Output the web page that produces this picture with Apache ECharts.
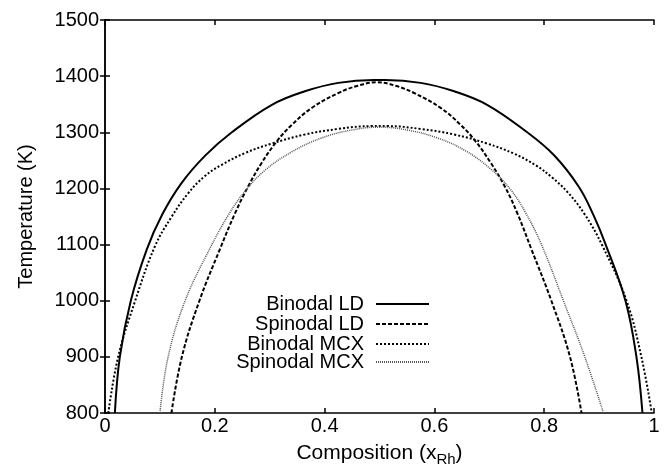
<!DOCTYPE html>
<html>
<head>
<meta charset="utf-8">
<script src="https://cdn.jsdelivr.net/npm/echarts@6/dist/echarts.min.js"></script>
<style>html,body{margin:0;padding:0;background:#fff}#c{width:672px;height:472px}</style>
</head>
<body>
<div id="c"></div>
<script>
const seriesNames = ['Binodal LD', 'Spinodal LD', 'Binodal MCX', 'Spinodal MCX'];
const binodalLD = [[0.018,800],[0.027,900],[0.047,1000],[0.076,1091],[0.104,1153],[0.139,1209],[0.182,1258],[0.231,1300],[0.304,1349],[0.364,1373],[0.425,1388],[0.49,1393],[0.51,1393],[0.575,1388],[0.636,1373],[0.696,1349],[0.769,1300],[0.818,1259],[0.863,1203],[0.89,1152],[0.912,1100],[0.948,1000],[0.968,900],[0.979,800]];
const spinodalLD = [[0.121,800],[0.140,900],[0.172,1000],[0.209,1091],[0.237,1156],[0.261,1204],[0.285,1245],[0.313,1284],[0.340,1313],[0.376,1343],[0.425,1370],[0.461,1383],[0.495,1389],[0.529,1383],[0.563,1370],[0.612,1343],[0.648,1313],[0.675,1284],[0.703,1245],[0.728,1204],[0.751,1156],[0.777,1091],[0.813,1000],[0.847,900],[0.868,800]];
const binodalMCX = [[0.006,800],[0.024,900],[0.055,1000],[0.091,1097],[0.121,1149],[0.152,1192],[0.182,1222],[0.2125,1242],[0.255,1263],[0.304,1280],[0.364,1296],[0.425,1306],[0.486,1311],[0.514,1311],[0.575,1306],[0.636,1296],[0.696,1280],[0.745,1262],[0.785,1241],[0.815,1219],[0.842,1194],[0.873,1155],[0.906,1098],[0.950,1000],[0.977,900],[0.996,800]];
const spinodalMCX = [[0.100,800],[0.115,900],[0.146,1000],[0.190,1091],[0.225,1153],[0.255,1195],[0.291,1232],[0.340,1265],[0.395,1290],[0.449,1304],[0.50,1309],[0.551,1304],[0.605,1290],[0.655,1268],[0.702,1235],[0.738,1199],[0.766,1157],[0.795,1100],[0.835,1000],[0.874,900],[0.908,800]];
const xTicks = [0, 0.2, 0.4, 0.6, 0.8, 1];
const yTicks = [800, 900, 1000, 1100, 1200, 1300, 1400, 1500];

const FONT = 'Liberation Sans';
const chart = echarts.init(document.getElementById('c'), null, {renderer: 'canvas'});
const axisCommon = {
  axisLine: {show: true, lineStyle: {color: '#000', width: 1.5}},
  axisTick: {show: true, inside: true, length: 5, lineStyle: {color: '#000', width: 1.5}},
  splitLine: {show: false}
};
const styles = [
  {color: '#000', width: 2, type: 'solid'},
  {color: '#000', width: 2, type: [4, 2]},
  {color: '#000', width: 2, type: [2, 2]},
  {color: '#555', width: 1.5, type: [1, 1]}
];
const dataArr = [binodalLD, spinodalLD, binodalMCX, spinodalMCX];
const legendTops = [294, 314, 334, 352];
chart.setOption({
  animation: false,
  textStyle: {fontFamily: FONT},
  grid: {left: 105, right: 18, top: 20, bottom: 58},
  legend: seriesNames.map((n, i) => ({
    data: [n], right: 242, top: legendTops[i], orient: 'vertical', align: 'right',
    itemWidth: 53, itemHeight: 14, padding: 0,
    itemStyle: {opacity: 0},
    textStyle: {fontFamily: FONT, fontSize: 20, color: '#000', padding: [0, 7, 0, 0]}
  })),
  xAxis: [
    Object.assign({}, axisCommon, {
      type: 'value', min: 0, max: 1, interval: 0.2, position: 'bottom',
      name: 'Composition (x{sub|Rh})', nameLocation: 'middle', nameGap: 27,
      nameTextStyle: {fontFamily: FONT, fontSize: 21, color: '#000',
        rich: {sub: {fontFamily: FONT, fontSize: 15, color: '#000', verticalAlign: 'bottom', padding: [12, 0, 0, 0]}}},
      axisLabel: {fontFamily: FONT, fontSize: 20, color: '#000', margin: 3,
        formatter: v => xTicks.includes(+v.toFixed(1)) ? String(+v.toFixed(1)) : ''}
    }),
    Object.assign({}, axisCommon, {
      type: 'value', min: 0, max: 1, interval: 0.2, position: 'top',
      axisLabel: {show: false}
    })
  ],
  yAxis: [
    Object.assign({}, axisCommon, {
      type: 'value', min: 800, max: 1500, interval: 100, position: 'left',
      name: 'Temperature (K)', nameLocation: 'middle', nameGap: 69, nameRotate: 90,
      nameTextStyle: {fontFamily: FONT, fontSize: 20, color: '#000'},
      axisLabel: {fontFamily: FONT, fontSize: 20, color: '#000', margin: 6,
        formatter: v => yTicks.includes(v) ? String(v) : ''}
    }),
    Object.assign({}, axisCommon, {
      type: 'value', min: 800, max: 1500, interval: 100, position: 'right',
      axisLabel: {show: false}
    })
  ],
  series: seriesNames.map((n, i) => ({
    name: n, type: 'line', data: dataArr[i], smooth: 0.4,
    symbol: 'none', showSymbol: false, clip: true,
    lineStyle: styles[i], itemStyle: {color: styles[i].color}
  }))
});
</script>
</body>
</html>
